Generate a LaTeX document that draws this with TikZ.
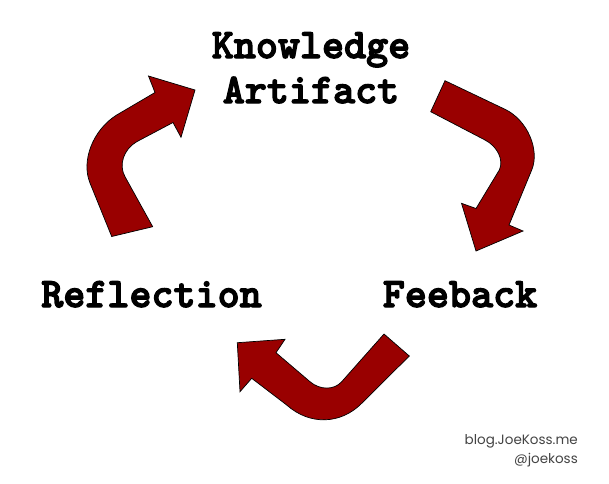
\documentclass[tikz,border=0pt]{standalone}
\usepackage{fontspec}
\newfontfamily\typew{lmmonolt10-bold.otf}[FakeBold=3]
\newfontfamily\footfont{Poppins}
\definecolor{arrowred}{HTML}{990000}
\definecolor{footgray}{HTML}{444444}
\begin{document}
\begin{tikzpicture}[x=1pt,y=-1pt,
  lbl/.style={font=\typew\fontsize{42}{42}\selectfont, inner sep=0pt, anchor=base, text=black},
  foot/.style={font=\footfont\fontsize{13.5}{14}\selectfont, inner sep=0pt, anchor=base east, text=footgray},
  blockarrow/.style={fill=arrowred, draw=black, line width=0.7pt, line join=miter}]
\useasboundingbox[fill=white] (0,0) rectangle (609,483);

% labels
\node[lbl] (know) at (311,58) {Knowledge};
\node[lbl] (artif) at (311,103) {Artifact};
\node[lbl] (refl) at (151.5,307) {Reflection};
\node[lbl] (feed) at (460,307) {Feeback};

% footer
\node[foot] (blog) at (578,444) {blog.JoeKoss.me};
\node[foot] (handle) at (578,463) {@joekoss};

% left arrow (Reflection -> Knowledge Artifact)
\draw[blockarrow] (111.7,236.5) -- (90,183)
  .. controls (80.9,160.9) and (92.9,129.8) .. (116.7,115)
  -- (155,92.5) -- (148.5,76) -- (195,90) -- (181,137.3) -- (173,122.5)
  -- (136.7,141.7)
  .. controls (123.6,149.2) and (118.4,165) .. (125,176.7)
  -- (152.7,226.7) -- cycle;

% right arrow (Knowledge Artifact -> Feeback)
\draw[blockarrow] (445,80.7) -- (505,109.3)
  .. controls (527.5,120) and (540,150.1) .. (531.7,170)
  -- (509,225) -- (523,231) -- (476,251) -- (461.5,203.3) -- (476,208.5)
  -- (499.3,170)
  .. controls (504,160.1) and (497.6,146.5) .. (485,140)
  -- (430.7,111.7) -- cycle;

% bottom arrow (Feeback -> Reflection)
\draw[blockarrow] (409.3,356) -- (361.7,403.3)
  .. controls (340.7,424.5) and (309.7,425.5) .. (286.7,405)
  -- (251.7,378.3) -- (240,391.7) -- (237.3,342.7) -- (285,339.3) -- (276,352.7)
  -- (310,381.7)
  .. controls (320,390.2) and (334.2,390.2) .. (341.7,381.7)
  -- (384,334) -- cycle;
\end{tikzpicture}
\end{document}
